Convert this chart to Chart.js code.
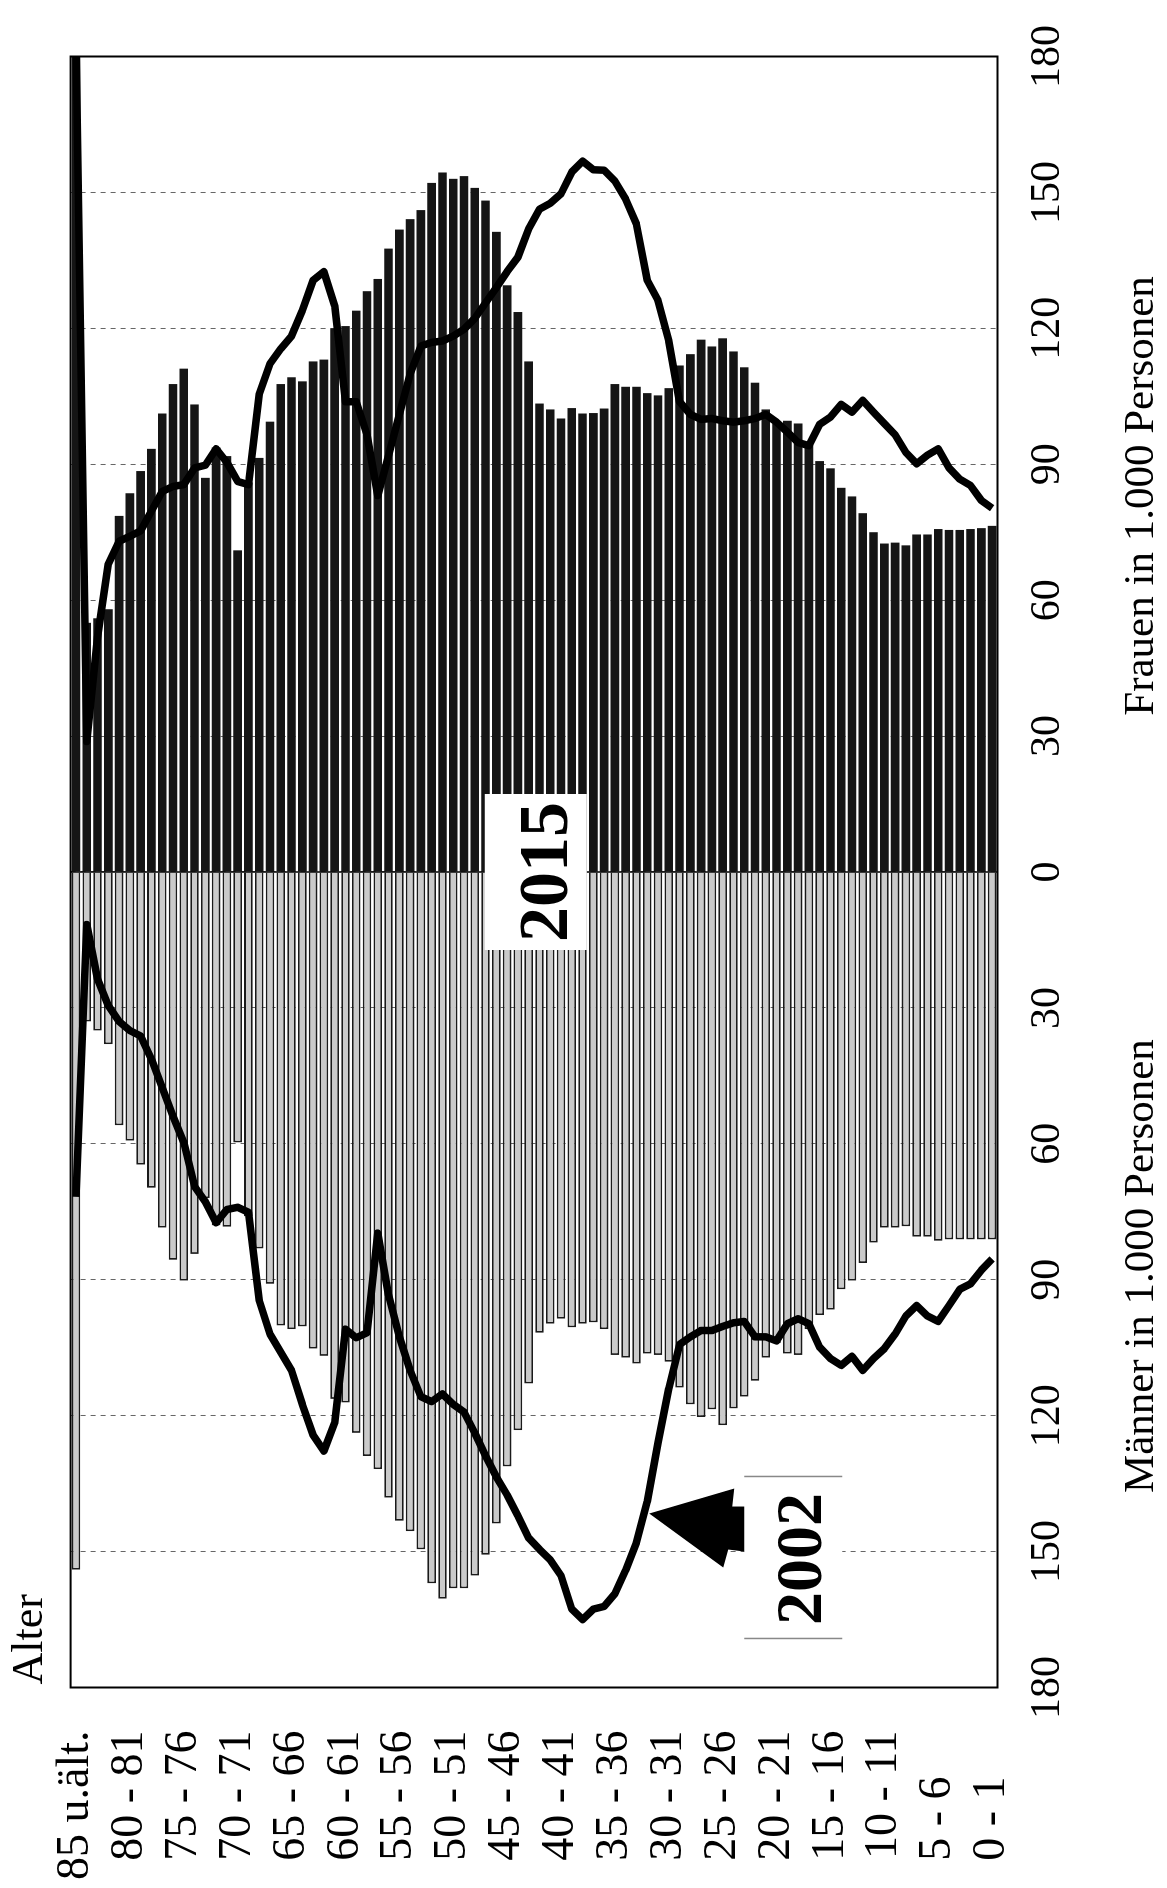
<!DOCTYPE html>
<html lang="de">
<head>
<meta charset="utf-8">
<title>Bevölkerung nach Altersjahren 2002 und 2015</title>
<script src="https://cdn.jsdelivr.net/npm/chart.js@4/dist/chart.umd.min.js"></script>
<style>
  html, body { margin: 0; padding: 0; background: #fff; overflow: hidden; }
  #wrap { position: relative; width: 1167px; height: 1888px; overflow: hidden; background: #fff; }
  /* die Grafik steht im Original quer: Canvas wird um 90 Grad gedreht */
  #pyramide { position: absolute; left: 0; top: 0; width: 1888px; height: 1167px;
    transform-origin: 0 0; transform: translate(0, 1888px) rotate(-90deg); }
</style>
</head>
<body>
<div id="wrap"><canvas id="pyramide" width="1888" height="1167"></canvas></div>
<script>
// Altersjahre von oben (85 u. älter) nach unten (0 - 1)
const alter = ['85 u.ält.'];
for (let a = 84; a >= 0; a--) alter.push(a + ' - ' + (a + 1));

// beschriftete Altersgruppen
const alterTicks = ['85 u.ält.', '80 - 81', '75 - 76', '70 - 71', '65 - 66', '60 - 61',
  '55 - 56', '50 - 51', '45 - 46', '40 - 41', '35 - 36', '30 - 31', '25 - 26',
  '20 - 21', '15 - 16', '10 - 11', '5 - 6', '0 - 1'];

// Werte in 1.000 Personen, Reihenfolge wie "alter" (85 u.ält. ... 0 - 1)
const frauen2015 = [190, 55, 56, 58, 78.6, 83.6, 88.5, 93.4, 101.2, 107.7,
  111.1, 103.2, 87.0, 93.7, 91.8, 71.0, 86.0, 91.4, 99.4, 107.7,
  109.2, 108.3, 112.7, 113.1, 120.0, 120.5, 123.9, 128.2, 130.9, 137.6,
  141.8, 144.1, 146.1, 152.1, 154.4, 153.0, 153.6, 151.0, 148.2, 141.3,
  129.5, 123.6, 112.7, 103.4, 102.1, 100.1, 102.4, 101.2, 101.3, 102.3,
  107.7, 107.1, 107.1, 105.7, 105.2, 106.8, 111.8, 114.3, 117.5, 116.0,
  117.8, 114.9, 111.4, 108.0, 102.1, 99.0, 99.6, 99.0, 94.3, 90.7,
  89.1, 84.8, 82.9, 79.2, 75.0, 72.5, 72.7, 72.1, 74.5, 74.5,
  75.7, 75.5, 75.5, 75.7, 75.9, 76.4];

const maenner2015 = [154, 33, 35, 38, 55.9, 59.3, 64.6, 69.7, 78.5, 85.6,
  90.2, 84.3, 72.0, 78.0, 78.3, 59.7, 76.0, 83.1, 90.9, 100.1,
  100.9, 100.3, 105.2, 106.8, 116.3, 117.1, 123.8, 128.9, 131.8, 138.1,
  143.2, 145.5, 149.5, 157.0, 160.4, 158.1, 158.1, 155.3, 150.7, 143.8,
  131.2, 123.2, 112.9, 101.7, 99.7, 98.6, 100.5, 99.7, 99.4, 100.9,
  106.6, 107.2, 108.5, 106.3, 106.6, 108.1, 113.8, 117.5, 120.3, 118.6,
  122.1, 118.4, 115.8, 112.3, 107.2, 104.0, 106.3, 106.6, 100.9, 97.8,
  96.6, 92.1, 90.2, 86.3, 81.8, 78.5, 78.5, 78.2, 80.5, 80.5,
  81.4, 81.1, 81.1, 81.1, 81.1, 81.1];

const frauen2002 = [185, 28.8, 51.8, 68.0, 73.0, 74.1, 75.3, 79.7, 84.0, 85.1,
  85.5, 89.2, 89.8, 93.4, 90.4, 86.2, 85.5, 105.5, 112.2, 115.5,
  118.3, 123.9, 130.6, 132.5, 125.0, 103.8, 103.8, 96.5, 83.1, 92.0,
  101.0, 109.9, 116.1, 116.9, 117.2, 118.3, 119.8, 122.2, 125.6, 129.0,
  132.5, 135.7, 142.0, 146.3, 147.6, 149.7, 154.5, 156.9, 155.0, 154.9,
  152.5, 148.5, 143.0, 130.6, 126.2, 117.2, 103.8, 101.0, 99.9, 100.1,
  99.6, 99.3, 99.6, 100.1, 101.0, 99.3, 97.1, 94.8, 94.1, 98.8,
  100.4, 103.2, 101.5, 104.1, 101.5, 99.0, 96.5, 92.6, 90.1, 92.0,
  93.4, 89.2, 86.7, 85.3, 82.0, 80.3];

const maenner2002 = [71.7, 11.6, 23.6, 29.5, 33.0, 35.0, 36.2, 41.3, 47.6, 53.9,
  59.7, 69.4, 72.8, 77.4, 74.5, 74.0, 75.1, 94.6, 102.0, 106.0,
  110.0, 117.5, 124.3, 127.8, 121.5, 100.9, 102.8, 101.7, 79.7, 93.4,
  102.6, 110.0, 115.8, 116.9, 115.2, 117.5, 119.2, 123.8, 128.9, 133.5,
  137.5, 142.1, 147.0, 149.5, 151.8, 155.3, 162.7, 165.0, 162.7, 162.1,
  159.3, 154.1, 148.0, 139.0, 126.0, 114.0, 104.3, 102.6, 101.2, 101.2,
  100.3, 99.5, 99.2, 102.6, 102.6, 103.5, 99.7, 98.6, 99.7, 104.9,
  107.4, 108.9, 106.9, 110.0, 107.4, 105.2, 102.0, 98.0, 95.7, 98.0,
  99.2, 95.7, 92.1, 90.9, 87.9, 85.4];

// Lage der Beschriftungen im Diagramm (Wert, Altersindex)
const marke2015 = { wert: 0, index: 42.66 };
const marke2002 = { wert: -151.3, index: 66.55 };
const pfeilSpitze = { wert: -141.6, index: 53.2 };

const schrift = '"Liberation Serif", "Times New Roman", serif';

const beschriftung = {
  id: 'beschriftung',
  afterDatasetsDraw(chart) {
    const { ctx, chartArea: a, scales: { x, y } } = chart;
    ctx.save();

    // Nulllinie und Rahmen
    ctx.strokeStyle = '#000';
    ctx.lineWidth = 1.5;
    const x0 = x.getPixelForValue(0);
    ctx.beginPath();
    ctx.moveTo(x0, a.top);
    ctx.lineTo(x0, a.bottom);
    ctx.stroke();
    ctx.lineWidth = 2;
    ctx.strokeRect(a.left, a.top, a.right - a.left, a.bottom - a.top);

    // Kennzeichnung 2015
    let cx = x.getPixelForValue(marke2015.wert);
    let cy = y.getPixelForValue(marke2015.index);
    ctx.fillStyle = '#fff';
    ctx.fillRect(cx - 78, cy - 51, 156, 102);
    ctx.fillStyle = '#000';
    ctx.font = 'bold 70px ' + schrift;
    ctx.textAlign = 'center';
    ctx.textBaseline = 'alphabetic';
    ctx.fillText('2015', cx, cy + 7 + 24);

    // Kennzeichnung 2002 mit Pfeil
    cx = x.getPixelForValue(marke2002.wert);
    cy = y.getPixelForValue(marke2002.index);
    ctx.fillStyle = '#fff';
    ctx.fillRect(cx - 81, cy - 49, 162, 98);
    ctx.strokeStyle = '#888';
    ctx.lineWidth = 1.5;
    ctx.beginPath();
    ctx.moveTo(cx - 81, cy - 49); ctx.lineTo(cx - 81, cy + 49);
    ctx.moveTo(cx + 81, cy - 49); ctx.lineTo(cx + 81, cy + 49);
    ctx.stroke();
    ctx.fillStyle = '#000';
    ctx.font = 'bold 66px ' + schrift;
    ctx.fillText('2002', cx - 1.5, cy + 5.5 + 22.3);

    const px = x.getPixelForValue(pfeilSpitze.wert);
    const py = y.getPixelForValue(pfeilSpitze.index);
    ctx.beginPath();
    ctx.moveTo(px, py);
    ctx.lineTo(px + 25, py + 85);
    ctx.lineTo(px + 7, py + 83);
    ctx.lineTo(px + 7, py + 95);
    ctx.lineTo(px - 38, py + 95);
    ctx.lineTo(px - 36, py + 79);
    ctx.lineTo(px - 54, py + 74);
    ctx.closePath();
    ctx.fill();
    ctx.restore();
  },
  afterDraw(chart) {
    const { ctx, chartArea: a, scales: { x } } = chart;
    ctx.save();
    ctx.fillStyle = '#000';
    ctx.font = '43px ' + schrift;
    ctx.textAlign = 'center';
    ctx.textBaseline = 'alphabetic';
    ctx.fillText('Männer in 1.000 Personen', x.getPixelForValue(-87), 1153);
    ctx.fillText('Frauen in 1.000 Personen', x.getPixelForValue(83), 1153);
    ctx.textAlign = 'left';
    ctx.font = '44px ' + schrift;
    ctx.fillText('Alter', a.left + 3, 42);
    ctx.restore();
  }
};

const ctx = document.getElementById('pyramide').getContext('2d');

new Chart(ctx, {
  type: 'bar',
  data: {
    labels: alter,
    datasets: [
      { type: 'line', label: 'Frauen 2002', data: frauen2002, borderColor: '#000',
        borderWidth: 7.5, pointRadius: 0, tension: 0, borderJoinStyle: 'round', order: 0 },
      { type: 'line', label: 'Männer 2002', data: maenner2002.map(v => -v), borderColor: '#000',
        borderWidth: 7.5, pointRadius: 0, tension: 0, borderJoinStyle: 'round', order: 0 },
      { label: 'Frauen 2015', data: frauen2015, backgroundColor: '#151515', borderWidth: 0,
        barPercentage: 0.8, categoryPercentage: 1, grouped: false, order: 1 },
      { label: 'Männer 2015', data: maenner2015.map(v => -v), backgroundColor: '#cacaca',
        borderColor: '#1a1a1a', borderWidth: 1.8,
        barPercentage: 0.8, categoryPercentage: 1, grouped: false, order: 1 }
    ]
  },
  options: {
    indexAxis: 'y',
    responsive: false,
    animation: false,
    devicePixelRatio: 1,
    layout: { padding: { top: 65, right: 46, left: 0, bottom: 0 } },
    plugins: { legend: { display: false }, tooltip: { enabled: false } },
    scales: {
      x: {
        min: -180, max: 180,
        ticks: { stepSize: 30, callback: v => Math.abs(v), color: '#000',
          font: { family: schrift, size: 42 }, padding: 25, maxRotation: 0 },
        grid: { color: '#666', lineWidth: 1, drawTicks: false },
        border: { display: false, dash: [5, 5] },
        afterFit: s => { s.height = 169.5; }
      },
      y: {
        ticks: {
          autoSkip: false, color: '#000', padding: 43,
          font: { family: schrift, size: 46 },
          callback: (v, i) => {
            const lbl = alter[i];
            if (!alterTicks.includes(lbl)) return '';
            return lbl.length < 6 ? lbl + '\u2007\u2007' : lbl;
          }
        },
        grid: { display: false, drawTicks: false },
        border: { display: false },
        afterFit: s => { s.width = 200.5; }
      }
    }
  },
  plugins: [beschriftung]
});
</script>
</body>
</html>
